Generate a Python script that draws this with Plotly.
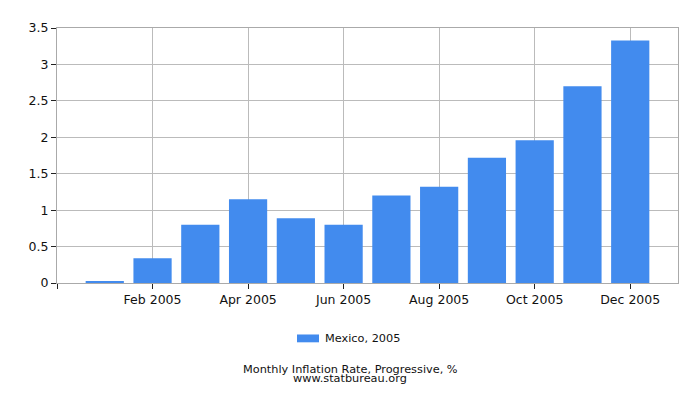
import plotly.graph_objects as go

# Monthly inflation, Mexico 2005 (progressive, %)
months = ["Jan 2005", "Feb 2005", "Mar 2005", "Apr 2005", "May 2005", "Jun 2005",
          "Jul 2005", "Aug 2005", "Sep 2005", "Oct 2005", "Nov 2005", "Dec 2005"]
values = [0.02, 0.34, 0.80, 1.15, 0.89, 0.80, 1.20, 1.32, 1.72, 1.96, 2.70, 3.33]
y_ticks = [0, 0.5, 1, 1.5, 2, 2.5, 3, 3.5]
y_labels = ["0", "0.5", "1", "1.5", "2", "2.5", "3", "3.5"]
series_name = "Mexico, 2005"
bar_color = "#428BEE"

xpos = list(range(len(months)))
shown = [i for i in xpos if i % 2 == 1]

fig = go.Figure()
fig.add_trace(go.Bar(
    x=xpos,
    y=values,
    name=series_name,
    marker=dict(color=bar_color, line=dict(width=0)),
    hovertext=months,
    showlegend=False,
))

# page is offset 8px by the body margin, so margins are shifted to compensate
fig.update_layout(
    width=700,
    height=400,
    margin=dict(l=49, r=30, t=14, b=125),
    plot_bgcolor="white",
    paper_bgcolor="white",
    font=dict(family="DejaVu Sans", size=12, color="#111"),
    bargap=0.2,
    shapes=[dict(
        type="rect", xref="paper", yref="paper",
        x0=0.3865, x1=0.4219, y0=-0.2326, y1=-0.2019,
        fillcolor=bar_color, line=dict(width=0),
    )],
    annotations=[
        dict(text=series_name, x=0.4283, y=-0.2165, xref="paper", yref="paper",
             showarrow=False, xanchor="left", yanchor="middle",
             font=dict(size=11.3, color="#111")),
        dict(text="Monthly Inflation Rate, Progressive, %", x=0.4723, y=-0.338,
             xref="paper", yref="paper", showarrow=False,
             xanchor="center", yanchor="middle", font=dict(size=11.3, color="#111")),
        dict(text="www.statbureau.org", x=0.4723, y=-0.376,
             xref="paper", yref="paper", showarrow=False,
             xanchor="center", yanchor="middle", font=dict(size=11.3, color="#111")),
    ],
)

fig.update_xaxes(
    range=[-1, 12],
    tickvals=[-1] + shown,
    ticktext=[""] + [months[i] for i in shown],
    ticks="outside", ticklen=5, tickcolor="#222",
    showgrid=True, gridcolor="#bbb",
    showline=True, linecolor="#aaa", mirror=True,
    zeroline=False,
    tickfont=dict(size=12.5),
)
fig.update_yaxes(
    range=[0, 3.5],
    tickvals=y_ticks,
    ticktext=y_labels,
    ticks="outside", ticklen=5, tickcolor="#222",
    showgrid=True, gridcolor="#bbb",
    showline=True, linecolor="#aaa", mirror=True,
    zeroline=False,
    tickfont=dict(size=12.5),
)

fig.write_html("out.html")
